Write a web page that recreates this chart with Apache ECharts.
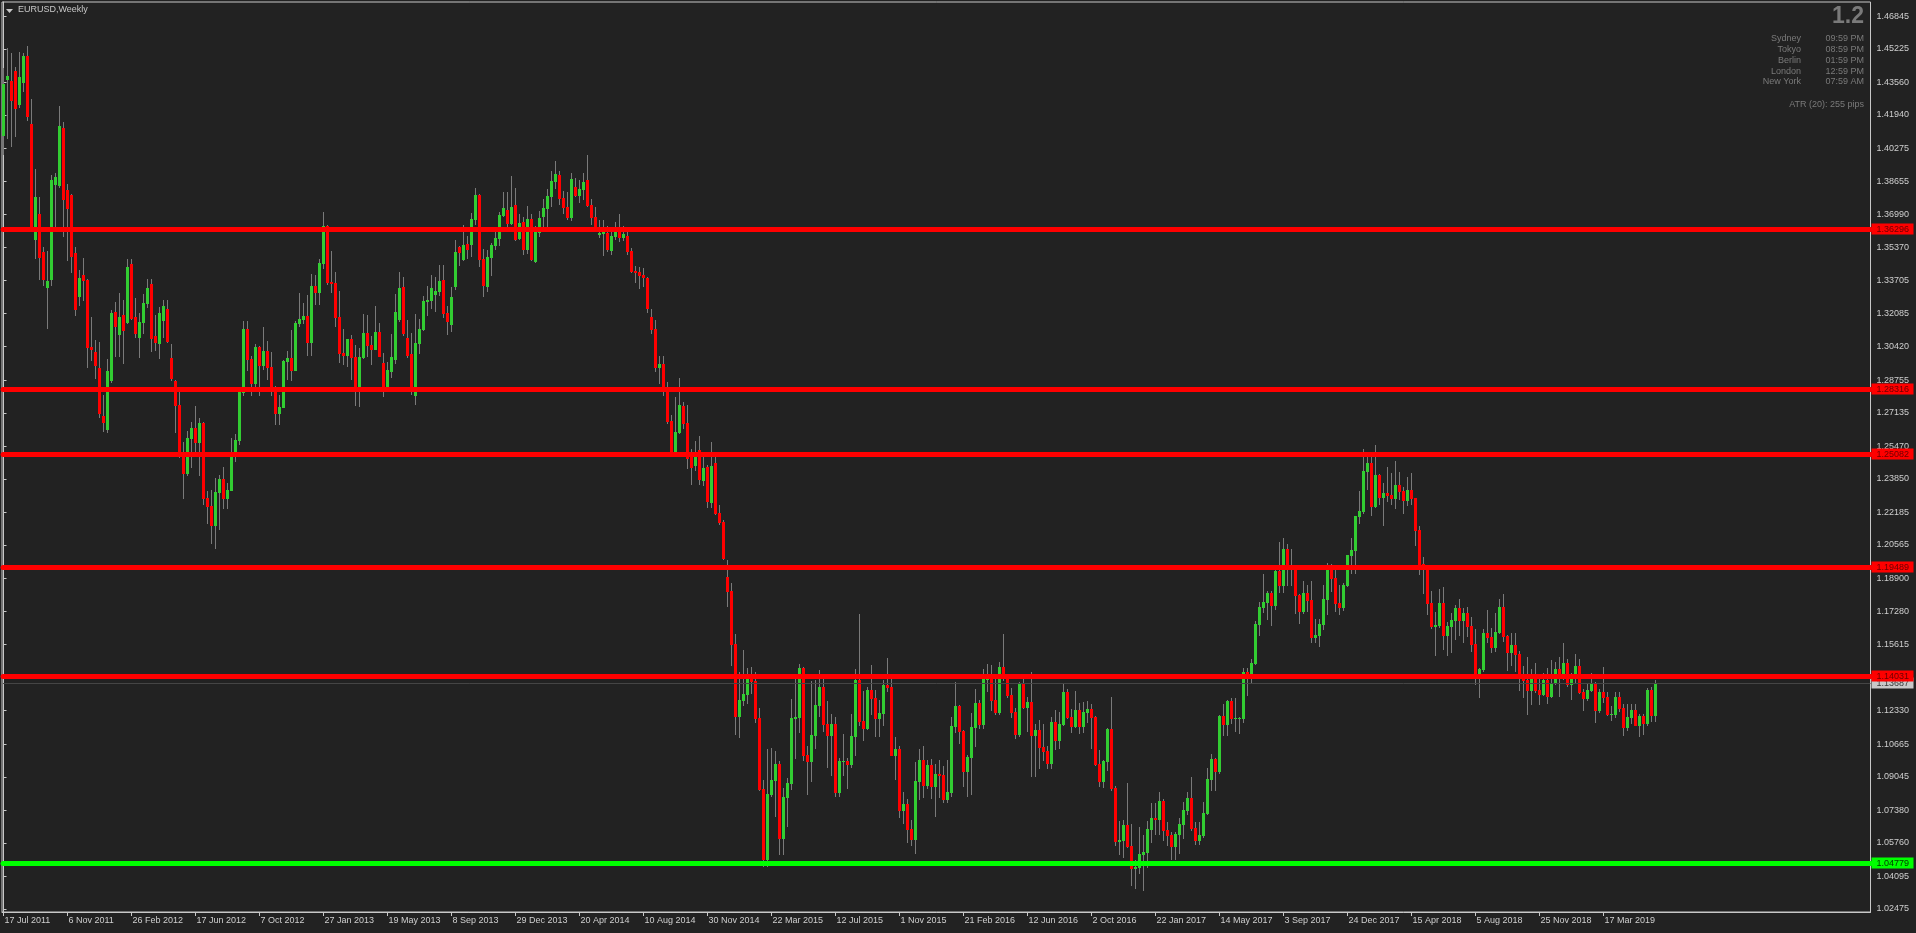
<!DOCTYPE html>
<html><head><meta charset="utf-8">
<script src="https://cdn.jsdelivr.net/npm/echarts@6/dist/echarts.min.js"></script>
<style>html,body{margin:0;padding:0;background:#222222;overflow:hidden}#c{width:1916px;height:933px}</style>
</head><body><div id="c"></div>
<script>
// Weekly EURUSD candles [open, high, low, close], first week starting 17 Jul 2011
const ohlc = [
[1.4094,1.4426,1.4000,1.4348],[1.4373,1.4525,1.4078,1.4388],[1.4363,1.4500,1.4041,1.4268],[1.4412,1.4434,1.4089,1.4230],
[1.4248,1.4508,1.4235,1.4383],[1.4358,1.4504,1.4315,1.4487],[1.4487,1.4537,1.4169,1.4190],[1.4149,1.4273,1.3622,1.3644],
[1.3577,1.3925,1.3485,1.3786],[1.3702,1.3788,1.3377,1.3490],[1.3511,1.3536,1.3349,1.3377],[1.3340,1.3519,1.3137,1.3368],
[1.3377,1.3896,1.3349,1.3871],[1.3851,1.3907,1.3639,1.3886],[1.3846,1.4239,1.3837,1.4139],[1.4129,1.4161,1.3592,1.3777],
[1.3821,1.3851,1.3473,1.3733],[1.3796,1.3800,1.3412,1.3495],[1.3507,1.3540,1.3200,1.3228],[1.3294,1.3423,1.3249,1.3385],
[1.3398,1.3481,1.3274,1.3373],[1.3373,1.3380,1.2943,1.3039],[1.3039,1.3191,1.2976,1.3033],[1.3018,1.3075,1.2885,1.2951],
[1.2935,1.3067,1.2691,1.2711],[1.2698,1.2802,1.2625,1.2669],[1.2633,1.2979,1.2617,1.2923],[1.2876,1.3225,1.2868,1.3208],
[1.3213,1.3266,1.2998,1.3147],[1.3104,1.3311,1.2998,1.3192],[1.3200,1.3274,1.2963,1.3125],[1.3167,1.3476,1.3158,1.3440],
[1.3453,1.3476,1.3180,1.3183],[1.3188,1.3283,1.3092,1.3109],[1.3092,1.3208,1.2993,1.3167],[1.3167,1.3303,1.3109,1.3261],
[1.3261,1.3377,1.3241,1.3332],[1.3352,1.3377,1.3022,1.3084],[1.3095,1.3200,1.3025,1.3067],[1.3059,1.3241,1.2984,1.3208],
[1.3175,1.3274,1.3092,1.3244],[1.3228,1.3274,1.3067,1.3072],[1.2987,1.3055,1.2877,1.2887],[1.2874,1.2877,1.2617,1.2750],
[1.2750,1.2825,1.2495,1.2515],[1.2515,1.2570,1.2288,1.2415],[1.2415,1.2625,1.2405,1.2590],[1.2590,1.2670,1.2445,1.2640],
[1.2640,1.2745,1.2520,1.2570],[1.2570,1.2690,1.2405,1.2665],[1.2665,1.2670,1.2260,1.2290],[1.2290,1.2325,1.2165,1.2250],
[1.2250,1.2330,1.2065,1.2155],[1.2155,1.2390,1.2042,1.2320],[1.2320,1.2405,1.2135,1.2385],[1.2385,1.2445,1.2240,1.2290],
[1.2290,1.2365,1.2240,1.2330],[1.2330,1.2590,1.2330,1.2515],[1.2515,1.2610,1.2475,1.2580],[1.2580,1.2815,1.2560,1.2815],
[1.2815,1.3170,1.2800,1.3130],[1.3130,1.3170,1.2925,1.2980],[1.2980,1.2995,1.2800,1.2860],[1.2860,1.3055,1.2830,1.3040],
[1.3040,1.3045,1.2800,1.2950],[1.2950,1.3140,1.2930,1.3020],[1.3020,1.3070,1.2880,1.2940],[1.2940,1.3015,1.2800,1.2830],
[1.2830,1.2845,1.2660,1.2715],[1.2715,1.2800,1.2660,1.2740],[1.2740,1.2975,1.2740,1.2970],[1.2970,1.3020,1.2880,1.2985],
[1.2985,1.3125,1.2875,1.2925],[1.2925,1.3170,1.2925,1.3160],[1.3160,1.3310,1.3145,1.3180],[1.3180,1.3260,1.3160,1.3195],
[1.3195,1.3300,1.3000,1.3065],[1.3065,1.3405,1.3000,1.3345],[1.3345,1.3400,1.3255,1.3315],[1.3315,1.3480,1.3255,1.3460],
[1.3460,1.3710,1.3435,1.3640],[1.3640,1.3645,1.3355,1.3365],[1.3365,1.3520,1.3315,1.3360],[1.3360,1.3415,1.3145,1.3190],
[1.3190,1.3320,1.2965,1.3010],[1.3010,1.3130,1.2955,1.3000],[1.3000,1.3080,1.2945,1.3080],[1.3080,1.3100,1.2880,1.2990],
[1.2990,1.3050,1.2750,1.2820],[1.2820,1.3035,1.2745,1.2990],[1.2990,1.3205,1.2985,1.3110],[1.3110,1.3200,1.2995,1.3050],
[1.3050,1.3095,1.2955,1.3030],[1.3030,1.3245,1.3030,1.3115],[1.3115,1.3160,1.2995,1.2995],[1.2959,1.3010,1.2795,1.2835],
[1.2835,1.2965,1.2820,1.2926],[1.2923,1.3105,1.2890,1.2989],[1.2981,1.3305,1.2960,1.3215],[1.3180,1.3415,1.3170,1.3332],
[1.3337,1.3390,1.3100,1.3112],[1.3084,1.3175,1.2990,1.3001],[1.3006,1.3110,1.2805,1.2827],[1.2801,1.3205,1.2755,1.3059],
[1.3062,1.3180,1.3010,1.3128],[1.3128,1.3295,1.3125,1.3269],[1.3269,1.3345,1.3200,1.3274],[1.3274,1.3400,1.3235,1.3332],
[1.3306,1.3390,1.3220,1.3317],[1.3319,1.3450,1.3300,1.3367],[1.3372,1.3450,1.3190,1.3208],[1.3208,1.3245,1.3105,1.3171],
[1.3154,1.3340,1.3120,1.3289],[1.3345,1.3570,1.3330,1.3511],[1.3538,1.3545,1.3450,1.3511],[1.3480,1.3645,1.3475,1.3546],
[1.3553,1.3590,1.3485,1.3530],[1.3551,1.3705,1.3495,1.3677],[1.3677,1.3830,1.3650,1.3796],[1.3796,1.3800,1.3445,1.3480],
[1.3480,1.3530,1.3295,1.3350],[1.3345,1.3525,1.3320,1.3488],[1.3488,1.3560,1.3400,1.3546],[1.3546,1.3620,1.3530,1.3581],
[1.3581,1.3710,1.3550,1.3697],[1.3697,1.3810,1.3690,1.3730],[1.3722,1.3810,1.3625,1.3659],[1.3659,1.3893,1.3650,1.3735],
[1.3745,1.3830,1.3570,1.3576],[1.3581,1.3700,1.3575,1.3657],[1.3662,1.3685,1.3505,1.3528],[1.3528,1.3740,1.3510,1.3677],
[1.3677,1.3700,1.3475,1.3480],[1.3470,1.3640,1.3465,1.3612],[1.3612,1.3715,1.3590,1.3682],[1.3693,1.3775,1.3640,1.3731],
[1.3731,1.3825,1.3640,1.3791],[1.3791,1.3915,1.3740,1.3866],[1.3866,1.3965,1.3830,1.3900],[1.3894,1.3915,1.3750,1.3783],
[1.3783,1.3815,1.3705,1.3738],[1.3738,1.3810,1.3675,1.3688],[1.3688,1.3905,1.3670,1.3876],[1.3836,1.3880,1.3790,1.3796],
[1.3796,1.3870,1.3760,1.3826],[1.3826,1.3905,1.3775,1.3861],[1.3871,1.3995,1.3740,1.3748],[1.3748,1.3775,1.3650,1.3685],
[1.3685,1.3735,1.3615,1.3622],[1.3604,1.3670,1.3585,1.3609],[1.3606,1.3670,1.3500,1.3635],[1.3609,1.3640,1.3520,1.3530],
[1.3525,1.3615,1.3505,1.3594],[1.3594,1.3660,1.3575,1.3637],[1.3635,1.3700,1.3565,1.3586],[1.3586,1.3640,1.3570,1.3602],
[1.3593,1.3620,1.3505,1.3516],[1.3516,1.3535,1.3415,1.3420],[1.3420,1.3445,1.3365,1.3415],[1.3415,1.3440,1.3335,1.3399],
[1.3399,1.3435,1.3345,1.3391],[1.3384,1.3390,1.3215,1.3232],[1.3191,1.3230,1.3110,1.3129],[1.3129,1.3175,1.2920,1.2943],
[1.2943,1.2995,1.2860,1.2954],[1.2954,1.2995,1.2800,1.2827],[1.2827,1.2865,1.2665,1.2674],[1.2674,1.2705,1.2500,1.2512],
[1.2512,1.2790,1.2500,1.2617],[1.2620,1.2885,1.2615,1.2752],[1.2747,1.2765,1.2640,1.2661],[1.2661,1.2750,1.2440,1.2487],
[1.2499,1.2535,1.2360,1.2446],[1.2456,1.2575,1.2430,1.2519],[1.2529,1.2600,1.2360,1.2385],[1.2380,1.2500,1.2355,1.2438],
[1.2443,1.2455,1.2245,1.2277],[1.2272,1.2570,1.2245,1.2449],[1.2462,1.2500,1.2210,1.2214],[1.2214,1.2255,1.2160,1.2172],
[1.2172,1.2180,1.1985,1.1994],[1.1896,1.1980,1.1755,1.1830],[1.1830,1.1870,1.1460,1.1565],[1.1565,1.1615,1.1115,1.1205],
[1.1205,1.1425,1.1100,1.1285],[1.1285,1.1535,1.1260,1.1315],[1.1315,1.1445,1.1270,1.1390],[1.1390,1.1450,1.1320,1.1380],
[1.1380,1.1425,1.1175,1.1195],[1.1195,1.1245,1.0840,1.0845],[1.0845,1.0890,1.0460,1.0495],[1.0495,1.1045,1.0460,1.0820],
[1.0820,1.1050,1.0810,1.0890],[1.0890,1.1035,1.0710,1.0970],[1.0970,1.0985,1.0520,1.0600],[1.0600,1.0850,1.0520,1.0805],
[1.0805,1.0900,1.0660,1.0875],[1.0875,1.1290,1.0845,1.1195],[1.1195,1.1390,1.1000,1.1200],[1.1200,1.1465,1.1125,1.1445],
[1.1445,1.1450,1.0990,1.1015],[1.1015,1.1060,1.0820,1.0985],[1.0985,1.1380,1.0885,1.1110],[1.1110,1.1385,1.1050,1.1260],
[1.1260,1.1435,1.1205,1.1350],[1.1350,1.1410,1.1130,1.1165],[1.1165,1.1280,1.0955,1.1110],[1.1110,1.1215,1.0915,1.1165],
[1.1165,1.1200,1.0810,1.0830],[1.0830,1.1000,1.0810,1.0985],[1.0985,1.1115,1.0915,1.0985],[1.0985,1.1000,1.0850,1.0970],
[1.0970,1.1215,1.0955,1.1105],[1.1105,1.1440,1.1015,1.1385],[1.1385,1.1715,1.1160,1.1180],[1.1180,1.1330,1.1085,1.1145],
[1.1145,1.1350,1.1140,1.1335],[1.1335,1.1460,1.1215,1.1295],[1.1295,1.1335,1.1105,1.1195],[1.1195,1.1285,1.1105,1.1220],
[1.1220,1.1385,1.1160,1.1360],[1.1360,1.1495,1.1330,1.1350],[1.1350,1.1390,1.1015,1.1015],[1.1015,1.1100,1.0895,1.1045],
[1.1045,1.1060,1.0705,1.0740],[1.0740,1.0830,1.0675,1.0770],[1.0770,1.0795,1.0580,1.0645],[1.0645,1.0690,1.0565,1.0595],
[1.0595,1.0980,1.0525,1.0885],[1.0885,1.1045,1.0795,1.0990],[1.0990,1.1060,1.0805,1.0865],[1.0865,1.0990,1.0850,1.0965],
[1.0965,1.0995,1.0800,1.0860],[1.0860,1.0970,1.0710,1.0920],[1.0920,1.0990,1.0805,1.0915],[1.0915,1.0960,1.0780,1.0795],
[1.0795,1.0990,1.0780,1.0830],[1.0830,1.1200,1.0810,1.1155],[1.1155,1.1375,1.1125,1.1255],[1.1255,1.1260,1.1070,1.1130],
[1.1130,1.1135,1.0860,1.0935],[1.0935,1.1015,1.0810,1.1005],[1.1005,1.1220,1.0820,1.1150],[1.1150,1.1340,1.1060,1.1270],
[1.1270,1.1285,1.1145,1.1165],[1.1165,1.1440,1.1145,1.1390],[1.1390,1.1465,1.1330,1.1395],[1.1395,1.1460,1.1235,1.1285],
[1.1285,1.1395,1.1215,1.1225],[1.1225,1.1475,1.1215,1.1450],[1.1450,1.1615,1.1385,1.1405],[1.1405,1.1415,1.1300,1.1310],
[1.1310,1.1345,1.1200,1.1225],[1.1225,1.1245,1.1095,1.1115],[1.1115,1.1375,1.1105,1.1365],[1.1365,1.1415,1.1245,1.1250],
[1.1250,1.1300,1.1130,1.1275],[1.1275,1.1425,1.0910,1.1110],[1.1110,1.1165,1.0910,1.1135],[1.1135,1.1185,1.0950,1.1055],
[1.1055,1.1165,1.0990,1.1035],[1.1035,1.1060,1.0950,1.0975],[1.0975,1.1200,1.0950,1.1175],[1.1175,1.1235,1.1045,1.1085],
[1.1085,1.1225,1.1050,1.1165],[1.1165,1.1365,1.1160,1.1325],[1.1325,1.1340,1.1195,1.1200],[1.1200,1.1240,1.1125,1.1155],
[1.1155,1.1330,1.1150,1.1235],[1.1235,1.1270,1.1120,1.1155],[1.1155,1.1275,1.1125,1.1225],[1.1225,1.1280,1.1175,1.1240],
[1.1240,1.1265,1.1050,1.1200],[1.1200,1.1205,1.0965,1.0970],[1.0970,1.1040,1.0860,1.0885],[1.0885,1.0990,1.0855,1.0985],
[1.0985,1.1145,1.0940,1.1140],[1.1140,1.1300,1.0840,1.0850],[1.0850,1.0860,1.0565,1.0585],[1.0585,1.0685,1.0520,1.0590],
[1.0590,1.0690,1.0505,1.0665],[1.0665,1.0875,1.0555,1.0560],[1.0560,1.0670,1.0365,1.0450],[1.0450,1.0490,1.0350,1.0455],
[1.0455,1.0655,1.0425,1.0520],[1.0520,1.0615,1.0340,1.0530],[1.0530,1.0685,1.0455,1.0645],[1.0645,1.0775,1.0580,1.0700],
[1.0700,1.0775,1.0620,1.0695],[1.0695,1.0830,1.0620,1.0785],[1.0785,1.0795,1.0590,1.0640],[1.0640,1.0680,1.0565,1.0615],
[1.0615,1.0630,1.0495,1.0560],[1.0560,1.0630,1.0495,1.0620],[1.0620,1.0700,1.0525,1.0670],[1.0670,1.0780,1.0600,1.0740],
[1.0740,1.0830,1.0720,1.0800],[1.0800,1.0905,1.0640,1.0650],[1.0650,1.0680,1.0570,1.0590],[1.0590,1.0680,1.0570,1.0615],
[1.0615,1.0780,1.0605,1.0725],[1.0725,1.0950,1.0720,1.0895],[1.0895,1.1020,1.0840,1.0995],[1.0995,1.1000,1.0840,1.0935],
[1.0935,1.1210,1.0925,1.1205],[1.1205,1.1265,1.1110,1.1165],[1.1165,1.1285,1.1110,1.1280],[1.1280,1.1295,1.1170,1.1195],
[1.1195,1.1295,1.1130,1.1195],[1.1195,1.1200,1.1120,1.1195],[1.1195,1.1445,1.1175,1.1425],[1.1425,1.1445,1.1310,1.1400],
[1.1400,1.1490,1.1370,1.1470],[1.1470,1.1680,1.1465,1.1665],[1.1665,1.1775,1.1610,1.1750],[1.1750,1.1910,1.1725,1.1775],
[1.1775,1.1830,1.1690,1.1820],[1.1820,1.1830,1.1660,1.1760],[1.1760,1.1940,1.1740,1.1925],[1.1925,1.2070,1.1825,1.1860],
[1.1860,1.2090,1.1825,1.2035],[1.2035,1.2060,1.1860,1.1945],[1.1945,1.2035,1.1860,1.1950],[1.1950,1.1955,1.1720,1.1810],
[1.1810,1.1815,1.1670,1.1730],[1.1730,1.1880,1.1720,1.1820],[1.1820,1.1860,1.1730,1.1785],[1.1785,1.1880,1.1575,1.1600],
[1.1600,1.1690,1.1575,1.1610],[1.1610,1.1690,1.1555,1.1665],[1.1665,1.1860,1.1640,1.1790],[1.1790,1.1965,1.1715,1.1935],
[1.1935,1.1960,1.1830,1.1895],[1.1895,1.1940,1.1730,1.1770],[1.1770,1.1860,1.1715,1.1750],[1.1750,1.1870,1.1735,1.1860],
[1.1860,1.2005,1.1855,1.2005],[1.2005,1.2090,1.1915,1.2030],[1.2030,1.2200,1.1915,1.2200],[1.2200,1.2325,1.2165,1.2225],
[1.2225,1.2535,1.2215,1.2425],[1.2425,1.2520,1.2335,1.2465],[1.2465,1.2505,1.2205,1.2250],[1.2250,1.2555,1.2245,1.2405],
[1.2405,1.2410,1.2260,1.2295],[1.2295,1.2365,1.2155,1.2315],[1.2315,1.2445,1.2275,1.2305],[1.2305,1.2415,1.2260,1.2290],
[1.2290,1.2475,1.2240,1.2355],[1.2355,1.2420,1.2285,1.2325],[1.2325,1.2345,1.2215,1.2280],[1.2280,1.2395,1.2255,1.2330],
[1.2330,1.2415,1.2260,1.2290],[1.2290,1.2290,1.2055,1.2130],[1.2130,1.2150,1.1910,1.1960],[1.1960,1.1995,1.1820,1.1940],
[1.1940,1.1955,1.1715,1.1770],[1.1770,1.1830,1.1645,1.1655],[1.1655,1.1725,1.1510,1.1660],[1.1660,1.1840,1.1650,1.1770],
[1.1770,1.1850,1.1540,1.1610],[1.1610,1.1675,1.1510,1.1655],[1.1655,1.1720,1.1525,1.1685],[1.1685,1.1760,1.1590,1.1745],
[1.1745,1.1790,1.1610,1.1685],[1.1685,1.1745,1.1575,1.1720],[1.1720,1.1750,1.1605,1.1655],[1.1655,1.1700,1.1530,1.1565],
[1.1565,1.1640,1.1365,1.1410],[1.1410,1.1445,1.1300,1.1440],[1.1440,1.1640,1.1430,1.1620],[1.1620,1.1735,1.1575,1.1600],
[1.1600,1.1645,1.1525,1.1550],[1.1550,1.1720,1.1530,1.1625],[1.1625,1.1790,1.1620,1.1750],[1.1750,1.1815,1.1580,1.1605],
[1.1605,1.1610,1.1435,1.1525],[1.1525,1.1620,1.1460,1.1560],[1.1560,1.1620,1.1430,1.1515],[1.1515,1.1530,1.1335,1.1400],
[1.1400,1.1455,1.1300,1.1385],[1.1385,1.1500,1.1215,1.1335],[1.1335,1.1440,1.1265,1.1415],[1.1415,1.1470,1.1325,1.1335],
[1.1335,1.1400,1.1265,1.1315],[1.1315,1.1420,1.1310,1.1385],[1.1385,1.1445,1.1270,1.1305],[1.1305,1.1485,1.1300,1.1370],
[1.1370,1.1475,1.1365,1.1440],[1.1440,1.1500,1.1305,1.1395],[1.1395,1.1570,1.1390,1.1470],[1.1470,1.1490,1.1355,1.1365],
[1.1365,1.1420,1.1290,1.1410],[1.1410,1.1515,1.1375,1.1455],[1.1455,1.1490,1.1320,1.1325],[1.1325,1.1340,1.1235,1.1295],
[1.1295,1.1370,1.1285,1.1335],[1.1335,1.1420,1.1330,1.1365],[1.1365,1.1375,1.1175,1.1235],[1.1235,1.1340,1.1225,1.1325],
[1.1325,1.1450,1.1275,1.1300],[1.1300,1.1325,1.1210,1.1215],[1.1215,1.1255,1.1185,1.1215],[1.1215,1.1325,1.1200,1.1300],
[1.1300,1.1325,1.1230,1.1245],[1.1245,1.1265,1.1110,1.1150],[1.1150,1.1265,1.1135,1.1200],[1.1200,1.1265,1.1170,1.1235],
[1.1235,1.1265,1.1160,1.1160],[1.1160,1.1215,1.1105,1.1205],[1.1205,1.1215,1.1115,1.1170],[1.1170,1.1345,1.1160,1.1335],
[1.1335,1.1350,1.1180,1.1210],[1.1210,1.1385,1.1180,1.1369]
];

const xTickLabels = ['17 Jul 2011','6 Nov 2011','26 Feb 2012','17 Jun 2012','7 Oct 2012','27 Jan 2013','19 May 2013','8 Sep 2013',
  '29 Dec 2013','20 Apr 2014','10 Aug 2014','30 Nov 2014','22 Mar 2015','12 Jul 2015','1 Nov 2015','21 Feb 2016','12 Jun 2016',
  '2 Oct 2016','22 Jan 2017','14 May 2017','3 Sep 2017','24 Dec 2017','15 Apr 2018','5 Aug 2018','25 Nov 2018','17 Mar 2019'];
const xTickStep = 16;
const yTickValues = [1.46845,1.45225,1.43560,1.41940,1.40275,1.38655,1.36990,1.35370,1.33705,1.32085,1.30420,1.28755,
  1.27135,1.25470,1.23850,1.22185,1.20565,1.18900,1.17280,1.15615,1.12330,1.10665,1.09045,1.07380,1.05760,1.04095,1.02475];
const redLevels = [1.36296,1.28316,1.25082,1.19489,1.14031];
const greenLevels = [1.04779];
const bidPrice = 1.13687;
const sessionCities = ['Sydney','Tokyo','Berlin','London','New York'];
const sessionTimes = ['09:59 PM','08:59 PM','01:59 PM','12:59 PM','07:59 AM'];

const FONT = 'Liberation Sans, Arial, sans-serif';
const upColor = '#32cd32', downColor = '#ff0000', wickColor = '#7a7a7a';
const fg = '#cfcfcf';

const chart = echarts.init(document.getElementById('c'), null, {renderer: 'canvas'});

const xTickPositions = xTickLabels.map((_, k) => k * xTickStep);

function renderCandle(params, api) {
  const i = api.value(0), o = api.value(1), h = api.value(2), l = api.value(3), c = api.value(4);
  const pH = api.coord([i, h]), pL = api.coord([i, l]), pO = api.coord([i, o]), pC = api.coord([i, c]);
  const px = Math.floor(pH[0]);
  const yT = Math.round(Math.min(pO[1], pC[1]));
  const yB = Math.round(Math.max(pO[1], pC[1]));
  return {type: 'group', children: [
    {type: 'line', shape: {x1: px + 0.5, y1: Math.round(pH[1]), x2: px + 0.5, y2: Math.round(pL[1]) + 1},
      style: {stroke: wickColor, lineWidth: 1}},
    {type: 'rect', shape: {x: px - 1, y: yT, width: 3, height: Math.max(1, yB - yT + 1)},
      style: {fill: c >= o ? upColor : downColor}}
  ]};
}

function levelRenderer(kind) {
  return function (params, api) {
    const v = api.value(1);
    const cs = params.coordSys;
    const y = api.coord([0, v])[1];
    const right = cs.x + cs.width;
    let lineColor, boxColor, textColor, lw;
    if (kind === 'red') { lineColor = '#ff0000'; boxColor = '#ff0000'; textColor = '#6a0000'; lw = 5; }
    else if (kind === 'green') { lineColor = '#00ff00'; boxColor = '#00ff00'; textColor = '#003800'; lw = 5; }
    else { lineColor = '#454545'; boxColor = '#c8c8c8'; textColor = '#3a3a3a'; lw = 1; }
    const yy = (lw % 2 === 1) ? Math.round(y) + 0.5 : Math.round(y);
    return {type: 'group', children: [
      {type: 'line', shape: {x1: cs.x + 1, y1: yy, x2: right, y2: yy},
        style: {stroke: lineColor, lineWidth: lw, lineCap: kind === 'bid' ? 'butt' : 'round'}},
      {type: 'rect', shape: {x: right + 1, y: Math.round(y) - 5.5, width: 42, height: 11}, style: {fill: boxColor}},
      {type: 'text', x: right + 6, y: Math.round(y) + 0.5,
        style: {text: v.toFixed(5), fill: textColor, font: '9px ' + FONT, textVerticalAlign: 'middle', textAlign: 'left'}}
    ]};
  };
}

const graphics = [
  {type: 'polygon', shape: {points: [[6, 9], [13, 9], [9.5, 13]]}, style: {fill: '#c8c8c8'}},
  {type: 'text', left: 18, top: 5, style: {text: 'EURUSD,Weekly', fill: '#c8c8c8', font: '9px ' + FONT}},
  {type: 'text', right: 52, top: 5, style: {text: '1.2', fill: '#7a7a7a', font: 'bold 23px ' + FONT}},
  {type: 'text', right: 52, top: 100, style: {text: 'ATR (20): 255 pips', fill: '#7a7a7a', font: '9px ' + FONT}}
];
sessionCities.forEach((city, k) => {
  graphics.push({type: 'text', right: 115, top: 34.5 + k * 10.7, style: {text: city, fill: '#7a7a7a', font: '9px ' + FONT}});
  graphics.push({type: 'text', right: 52, top: 34.5 + k * 10.7, style: {text: sessionTimes[k], fill: '#7a7a7a', font: '9px ' + FONT}});
});

chart.setOption({
  backgroundColor: '#222222',
  animation: false,
  grid: {left: 2, right: 45.5, top: 2, bottom: 21, show: true, borderColor: '#c8c8c8', borderWidth: 1, backgroundColor: '#222222'},
  xAxis: {
    type: 'value', min: -0.375, max: 466.75,
    axisLine: {show: true, lineStyle: {color: '#c8c8c8', width: 1}},
    axisTick: {show: true, customValues: xTickPositions, length: 4, lineStyle: {color: '#c8c8c8'}},
    axisLabel: {show: true, customValues: xTickPositions, formatter: v => xTickLabels[Math.round(v / xTickStep)],
      align: 'left', margin: 4, color: fg, fontSize: 9, fontFamily: FONT, padding: [0, 0, 0, 1]},
    splitLine: {show: false}
  },
  yAxis: {
    type: 'value', position: 'right', min: 1.023248, max: 1.475535, scale: true,
    axisLine: {show: true, lineStyle: {color: '#c8c8c8', width: 1}},
    axisTick: {show: true, customValues: yTickValues, length: 3, lineStyle: {color: '#c8c8c8'}},
    axisLabel: {show: true, customValues: yTickValues, formatter: v => v.toFixed(5), margin: 6,
      color: fg, fontSize: 9, fontFamily: FONT},
    splitLine: {show: false}
  },
  graphic: graphics,
  series: [
    {type: 'custom', name: 'EURUSD', renderItem: renderCandle, clip: true, silent: true, z: 2,
      dimensions: ['i', 'open', 'high', 'low', 'close'], encode: {x: 0, y: [1, 2, 3, 4]},
      data: ohlc.map((d, i) => [i, d[0], d[1], d[2], d[3]])},
    {type: 'custom', name: 'bid', renderItem: levelRenderer('bid'), clip: false, silent: true, z: 3,
      encode: {x: 0, y: 1}, data: [[0, bidPrice]]},
    {type: 'custom', name: 'support', renderItem: levelRenderer('green'), clip: false, silent: true, z: 4,
      encode: {x: 0, y: 1}, data: greenLevels.map(v => [0, v])},
    {type: 'custom', name: 'resistance', renderItem: levelRenderer('red'), clip: false, silent: true, z: 4,
      encode: {x: 0, y: 1}, data: redLevels.map(v => [0, v])}
  ]
});
</script></body></html>
